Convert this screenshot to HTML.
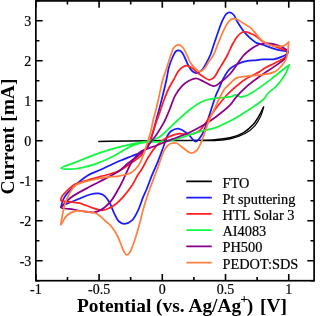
<!DOCTYPE html>
<html><head><meta charset="utf-8"><style>
html,body{margin:0;padding:0;background:#fff;width:315px;height:316px;overflow:hidden;font-family:"Liberation Serif",serif;}
svg{display:block;will-change:transform}
</style></head><body>
<svg width="315" height="316" viewBox="0 0 315 316">
<rect width="315" height="316" fill="#fff"/>
<path d="M98.80 141.40 C109.20 141.23 118.95 141.04 130.00 140.90 C142.51 140.74 157.62 140.60 170.00 140.50 C180.72 140.41 191.72 140.49 200.00 140.30 C205.86 140.16 209.94 140.13 215.00 139.70 C220.23 139.25 225.97 138.88 230.90 137.60 C235.45 136.42 239.83 134.84 243.60 132.60 C247.19 130.46 250.43 127.58 253.10 124.60 C255.65 121.75 257.59 118.28 259.40 115.20 C261.03 112.42 262.20 109.73 263.60 107.00" stroke="#000000" stroke-width="1.50" fill="none" stroke-linejoin="round" stroke-linecap="round"/>
<path d="M263.60 107.00 C262.73 109.87 262.30 112.69 261.00 115.60 C259.51 118.95 257.42 122.83 254.80 125.80 C252.12 128.85 248.68 131.53 245.00 133.60 C241.13 135.78 236.48 137.27 232.00 138.40 C227.48 139.54 222.97 140.02 218.00 140.40 C212.39 140.83 206.00 140.53 200.00 140.60" stroke="#000000" stroke-width="1.20" fill="none" stroke-linejoin="round" stroke-linecap="round"/>
<path d="M288.20 51.40 C288.10 51.90 288.28 52.37 287.90 52.90 C287.02 54.14 283.15 56.02 280.70 57.10 C278.38 58.12 276.29 58.88 273.60 59.30 C270.24 59.82 265.11 59.18 262.00 59.40 C259.89 59.55 258.85 59.82 256.70 60.10 C253.38 60.53 247.68 60.76 244.00 61.70 C241.00 62.46 238.53 63.57 236.10 64.80 C233.82 65.96 231.75 66.88 229.80 68.80 C227.29 71.27 224.82 75.71 223.00 79.10 C221.39 82.10 220.43 85.22 219.20 88.00 C218.10 90.48 216.97 92.56 216.00 95.00 C214.99 97.55 214.34 99.87 213.30 103.00 C211.84 107.41 209.94 113.77 208.10 119.00 C206.30 124.10 204.82 130.01 202.40 134.00 C200.47 137.18 197.97 141.53 195.60 141.60 C193.17 141.67 190.88 136.14 188.00 134.00 C185.06 131.82 181.17 128.92 178.10 128.70 C175.58 128.52 172.81 130.01 171.00 131.30 C169.47 132.39 168.66 133.64 167.60 135.50 C165.99 138.33 164.81 143.13 163.30 147.20 C161.66 151.64 159.97 156.48 158.10 161.10 C156.21 165.78 153.91 170.42 152.00 175.10 C150.11 179.72 148.37 184.92 146.70 189.00 C145.37 192.26 144.20 194.51 142.90 197.70 C141.35 201.52 140.04 206.48 138.10 210.40 C136.27 214.11 134.29 218.43 131.70 220.70 C129.63 222.52 126.83 223.88 124.60 223.90 C122.63 223.92 120.60 222.90 119.00 221.50 C117.03 219.78 115.79 216.51 114.30 213.60 C112.59 210.26 111.28 205.61 109.50 202.50 C108.05 199.98 106.57 197.60 104.80 196.10 C103.34 194.87 101.35 194.14 100.00 193.70 C99.09 193.40 98.62 193.30 97.60 193.30 C95.78 193.29 92.74 193.75 90.00 194.50 C86.54 195.44 82.13 197.59 78.60 199.00 C75.53 200.23 72.75 201.36 70.00 202.50 C67.46 203.55 64.13 204.86 62.70 205.60 C62.07 205.92 61.60 206.55 61.40 206.40 C60.92 206.02 62.64 200.52 64.20 197.70 C66.02 194.42 68.90 191.46 72.20 188.20 C76.45 184.01 82.97 178.33 88.10 175.20 C92.18 172.71 95.53 172.00 100.00 170.00 C105.82 167.39 114.24 163.29 120.00 160.80 C124.31 158.94 127.76 157.65 131.40 156.20 C134.74 154.87 138.29 153.86 141.00 152.40 C143.23 151.20 145.18 150.18 146.70 148.40 C148.35 146.46 149.25 143.67 150.30 141.00 C151.45 138.05 152.25 134.75 153.20 131.40 C154.22 127.77 155.20 123.67 156.20 120.00 C157.14 116.55 158.10 113.34 159.00 110.00 C159.90 106.67 160.62 103.95 161.60 100.00 C163.02 94.29 165.30 85.01 166.60 79.00 C167.57 74.52 167.84 70.95 168.90 67.20 C169.90 63.63 171.37 59.87 172.70 57.00 C173.73 54.78 174.60 52.36 175.90 51.30 C176.82 50.55 178.00 50.14 179.00 50.30 C180.10 50.47 181.25 51.49 182.20 52.60 C183.48 54.10 184.35 56.82 185.40 59.00 C186.48 61.25 187.38 63.79 188.60 65.90 C189.74 67.87 190.86 70.11 192.40 71.30 C193.73 72.32 195.44 73.20 197.00 73.00 C198.86 72.76 201.13 70.69 202.70 69.00 C204.32 67.25 205.27 64.85 206.50 62.60 C207.81 60.20 209.15 57.75 210.30 55.00 C211.58 51.93 212.49 48.57 213.70 45.00 C215.10 40.88 216.67 35.96 218.20 31.70 C219.64 27.71 221.04 23.40 222.60 20.20 C223.81 17.72 224.94 15.18 226.40 13.90 C227.44 12.99 228.67 12.34 229.80 12.40 C231.00 12.47 232.32 13.39 233.40 14.50 C234.89 16.04 235.83 19.19 237.20 21.50 C238.60 23.86 240.28 26.46 241.70 28.50 C242.85 30.16 243.69 31.39 245.00 32.90 C246.59 34.73 248.74 36.89 250.70 38.60 C252.55 40.21 254.28 41.84 256.40 42.90 C258.57 43.99 261.02 44.16 263.60 45.00 C266.67 46.00 270.38 47.62 273.60 48.60 C276.52 49.49 279.49 50.23 282.10 50.70 C284.29 51.09 286.17 51.17 288.20 51.40" stroke="#1a1aff" stroke-width="1.75" fill="none" stroke-linejoin="round" stroke-linecap="round"/>
<path d="M287.90 50.70 C287.13 52.77 287.16 55.07 285.60 56.90 C283.43 59.45 278.08 61.28 274.50 63.20 C271.23 64.95 267.62 66.45 265.00 68.00 C263.02 69.16 262.14 70.11 260.00 71.40 C256.50 73.51 250.43 75.86 245.70 79.00 C240.42 82.51 233.21 88.90 230.00 91.80 C228.48 93.17 228.15 93.51 226.80 95.00 C224.11 97.98 218.89 104.38 215.40 109.00 C212.17 113.28 209.36 117.84 206.50 121.70 C204.02 125.05 202.19 128.73 199.30 130.90 C196.62 132.90 193.36 134.07 190.00 134.60 C186.34 135.18 182.18 133.17 178.10 133.80 C173.47 134.51 167.60 137.09 163.80 139.40 C160.80 141.22 158.90 143.18 156.60 145.70 C153.93 148.63 151.43 152.38 149.00 156.20 C146.31 160.41 143.39 166.70 141.30 170.00 C140.07 171.95 139.27 172.65 138.10 174.50 C136.38 177.23 134.57 181.53 132.30 185.00 C129.85 188.74 126.69 192.80 123.80 196.10 C121.21 199.05 118.68 201.83 115.90 204.00 C113.36 205.99 110.48 207.72 107.90 208.80 C105.74 209.70 103.92 210.44 101.60 210.40 C98.71 210.35 95.37 208.71 91.90 207.60 C87.80 206.28 81.98 203.66 78.60 202.90 C76.60 202.45 75.59 202.61 73.70 202.40 C71.11 202.11 66.71 201.47 64.50 201.30 C63.26 201.21 62.19 201.65 61.60 201.20 C61.07 200.80 60.85 199.78 60.90 199.00 C60.96 198.07 61.63 197.01 62.30 196.00 C63.14 194.72 64.35 193.55 65.80 192.10 C67.86 190.04 70.44 186.92 73.70 185.00 C77.60 182.70 83.51 181.43 88.10 180.00 C92.23 178.71 95.58 177.98 100.00 176.70 C105.60 175.08 113.96 173.32 119.00 171.00 C122.70 169.29 124.70 167.51 128.00 165.20 C132.27 162.20 138.92 158.00 142.30 154.30 C144.79 151.57 146.09 148.70 147.50 146.00 C148.75 143.62 149.54 141.46 150.50 139.00 C151.54 136.34 152.48 133.57 153.50 130.60 C154.64 127.28 155.80 123.47 157.00 120.00 C158.17 116.61 159.43 113.34 160.60 110.00 C161.76 106.67 162.73 103.39 164.00 100.00 C165.35 96.40 166.85 92.44 168.50 89.00 C170.04 85.80 171.78 83.04 173.50 80.00 C175.28 76.85 176.72 72.85 179.00 70.40 C180.99 68.26 183.72 65.97 186.00 65.70 C187.94 65.47 189.87 66.73 191.70 67.80 C193.76 69.00 195.55 71.23 197.60 72.80 C199.65 74.37 201.96 75.98 204.00 77.20 C205.74 78.24 207.36 79.73 209.00 79.80 C210.52 79.86 212.08 79.09 213.50 77.90 C215.58 76.14 217.15 72.32 219.20 69.00 C221.74 64.88 225.23 59.33 227.50 55.00 C229.37 51.44 230.43 48.13 232.10 45.00 C233.68 42.05 235.31 38.92 237.20 36.70 C238.77 34.85 240.61 33.03 242.30 32.30 C243.57 31.75 244.79 31.74 246.10 31.90 C247.58 32.09 249.10 32.91 250.70 33.60 C252.52 34.38 254.46 35.17 256.40 36.40 C258.74 37.88 261.10 40.64 263.60 42.10 C265.88 43.43 268.12 44.01 270.70 45.00 C273.74 46.17 277.63 47.60 280.70 48.60 C283.28 49.44 285.50 50.00 287.90 50.70" stroke="#ff2020" stroke-width="1.75" fill="none" stroke-linejoin="round" stroke-linecap="round"/>
<path d="M289.10 64.90 C288.30 67.03 287.74 69.11 286.70 71.30 C285.51 73.82 283.97 76.58 282.20 79.10 C280.31 81.79 277.96 84.55 275.60 86.90 C273.32 89.17 270.40 90.81 268.30 93.00 C266.35 95.03 265.58 97.30 263.30 99.50 C260.08 102.60 254.90 105.77 250.00 109.00 C244.27 112.78 237.07 117.34 230.90 120.60 C225.45 123.48 219.76 126.17 215.00 127.80 C211.35 129.05 208.66 129.23 205.00 130.20 C200.49 131.40 193.87 133.39 190.00 134.60 C187.54 135.37 186.46 135.83 184.00 136.60 C180.13 137.81 173.66 140.16 169.00 141.00 C165.09 141.71 161.82 141.57 158.00 141.80 C153.85 142.05 149.11 141.83 145.00 142.40 C141.21 142.92 137.68 143.65 134.20 144.90 C130.67 146.17 127.36 148.17 124.00 150.00 C120.59 151.86 117.87 153.98 113.90 156.00 C108.65 158.67 101.56 161.95 95.00 164.10 C88.28 166.31 80.19 168.48 74.00 169.00 C69.21 169.40 61.26 169.17 61.10 168.20 C60.93 167.19 69.17 164.85 74.00 162.90 C80.14 160.42 89.26 156.71 95.00 154.60 C98.92 153.16 101.46 152.33 105.00 151.20 C108.97 149.93 113.45 148.55 117.70 147.40 C121.92 146.25 126.00 145.23 130.40 144.30 C135.08 143.31 140.94 142.52 145.00 141.70 C147.92 141.11 150.00 140.86 152.50 140.00 C155.20 139.07 157.84 138.06 160.60 136.20 C164.19 133.78 168.54 128.87 171.70 125.90 C174.07 123.67 175.46 122.22 177.90 120.00 C181.24 116.97 185.80 112.65 190.00 109.50 C194.08 106.44 198.30 103.19 202.70 101.30 C206.79 99.54 210.99 98.93 215.40 98.20 C220.07 97.43 226.15 97.63 230.00 96.90 C232.60 96.40 234.57 94.82 236.40 95.00 C237.86 95.14 238.82 96.78 240.20 97.00 C241.67 97.24 243.42 96.70 245.00 96.20 C246.69 95.67 248.09 94.87 250.00 93.80 C252.80 92.24 256.62 89.74 260.00 87.40 C263.65 84.87 267.42 81.95 271.10 79.10 C274.82 76.22 278.93 72.77 282.20 70.20 C284.76 68.19 286.80 66.67 289.10 64.90" stroke="#10f840" stroke-width="1.75" fill="none" stroke-linejoin="round" stroke-linecap="round"/>
<path d="M60.80 207.20 C64.07 204.03 66.55 200.75 70.60 197.70 C75.78 193.80 84.57 189.56 90.00 186.60 C93.86 184.50 96.15 183.45 100.00 181.40 C105.34 178.55 113.98 174.47 119.00 171.00 C122.72 168.43 124.92 165.77 128.00 163.30 C131.08 160.83 134.55 158.59 137.50 156.20 C140.22 153.99 142.72 152.06 145.10 149.50 C147.68 146.72 150.30 142.59 152.30 140.00 C153.70 138.19 154.53 137.36 155.90 135.40 C158.09 132.26 161.52 127.02 163.80 122.70 C166.00 118.54 167.53 114.41 169.40 110.00 C171.40 105.27 173.10 99.40 175.40 95.20 C177.30 91.73 179.40 88.71 181.70 86.30 C183.68 84.22 185.71 82.59 188.10 81.30 C190.56 79.97 193.63 78.41 196.30 78.50 C198.92 78.59 201.26 80.54 204.00 81.70 C207.14 83.04 211.16 86.28 214.10 86.10 C216.52 85.95 218.24 83.94 220.50 82.30 C223.45 80.17 226.74 77.55 230.00 74.00 C234.43 69.18 239.76 59.55 243.80 55.20 C246.32 52.49 248.45 50.96 250.70 49.30 C252.64 47.87 254.59 46.62 256.40 45.70 C257.90 44.94 259.05 44.39 260.70 44.00 C262.76 43.52 265.54 43.33 267.90 43.40 C270.20 43.47 272.42 43.83 274.70 44.40 C277.12 45.00 279.75 45.91 282.00 47.00 C284.13 48.03 285.93 49.47 287.90 50.70" stroke="#8a008a" stroke-width="1.75" fill="none" stroke-linejoin="round" stroke-linecap="round"/>
<path d="M287.90 50.70 C287.13 53.03 287.17 55.47 285.60 57.70 C283.43 60.79 278.11 63.80 274.50 66.40 C271.26 68.74 267.65 70.89 265.00 72.70 C263.06 74.02 262.02 74.72 260.00 76.20 C256.77 78.57 251.54 82.25 247.60 85.70 C243.60 89.21 239.33 93.53 236.20 97.10 C233.71 99.94 232.71 102.40 230.00 105.20 C226.32 109.01 220.19 113.68 215.40 117.20 C211.11 120.35 206.99 122.97 202.70 125.50 C198.52 127.96 194.68 130.05 190.00 132.20 C184.52 134.72 177.57 137.07 171.70 139.40 C166.24 141.56 161.17 143.59 155.90 145.70 C150.61 147.82 144.08 149.17 140.00 152.10 C136.63 154.52 134.96 157.11 132.40 161.00 C128.53 166.88 124.46 177.89 120.60 185.00 C117.38 190.92 114.18 196.94 111.10 200.90 C108.96 203.65 106.84 205.53 104.80 207.20 C103.16 208.54 101.77 209.55 100.00 210.40 C98.12 211.31 96.36 212.16 93.80 212.40 C89.88 212.77 82.26 211.10 78.60 210.50 C76.51 210.16 75.69 209.83 73.70 209.50 C70.62 208.99 63.70 208.72 61.90 208.00 C61.29 207.76 61.17 207.47 60.80 207.20" stroke="#8a008a" stroke-width="1.75" fill="none" stroke-linejoin="round" stroke-linecap="round"/>
<path d="M60.80 224.60 C61.67 219.83 62.26 214.88 63.40 210.30 C64.49 205.93 65.49 201.74 67.40 197.70 C69.40 193.46 71.76 188.29 75.30 185.50 C78.72 182.81 83.36 182.31 88.10 181.00 C93.76 179.43 101.36 177.98 107.10 177.10 C111.79 176.38 115.87 176.62 120.00 175.80 C123.96 175.02 128.23 174.26 131.40 172.40 C134.29 170.70 136.58 168.18 138.50 165.50 C140.48 162.74 141.68 159.29 143.00 156.00 C144.36 152.63 145.47 148.71 146.50 145.50 C147.37 142.80 148.06 140.42 148.80 138.00 C149.49 135.73 150.16 133.91 150.80 131.40 C151.64 128.13 152.32 123.66 153.20 120.00 C154.03 116.55 155.03 113.42 155.90 110.00 C156.80 106.43 157.55 103.17 158.50 99.00 C159.75 93.53 161.13 85.67 162.70 80.00 C164.01 75.27 165.69 71.23 167.00 67.20 C168.16 63.61 169.02 60.32 170.20 57.00 C171.36 53.75 172.28 49.61 174.00 47.50 C175.23 45.99 176.92 44.61 178.40 44.60 C179.89 44.59 181.61 46.11 182.90 47.50 C184.48 49.20 185.47 52.05 186.70 54.50 C188.01 57.13 189.07 60.47 190.50 62.80 C191.69 64.73 192.91 66.25 194.40 67.70 C195.90 69.16 197.82 71.39 199.50 71.50 C201.01 71.60 202.61 70.30 204.00 69.00 C205.86 67.26 207.35 63.72 209.00 61.30 C210.51 59.08 212.17 57.43 213.50 55.00 C215.07 52.13 216.11 48.39 217.50 45.00 C218.94 41.46 220.40 37.72 222.00 34.20 C223.57 30.73 225.25 26.61 227.00 24.00 C228.26 22.12 229.46 20.46 230.90 19.60 C232.07 18.90 233.37 18.58 234.70 18.70 C236.28 18.84 238.04 20.01 239.70 20.90 C241.48 21.85 243.20 23.15 245.00 24.30 C246.86 25.49 248.90 26.37 250.70 27.90 C252.73 29.62 254.64 32.29 256.40 34.30 C257.94 36.06 259.07 37.79 260.70 39.30 C262.39 40.87 264.29 42.41 266.40 43.50 C268.58 44.63 271.18 45.44 273.60 45.90 C275.95 46.35 278.58 46.52 280.70 46.30 C282.47 46.11 284.15 45.75 285.50 45.00 C286.75 44.31 287.57 43.07 288.60 42.10" stroke="#ff8040" stroke-width="1.75" fill="none" stroke-linejoin="round" stroke-linecap="round"/>
<path d="M288.60 42.10 C288.37 44.97 288.36 47.79 287.90 50.70 C287.42 53.76 287.03 57.19 285.70 60.00 C284.38 62.79 282.02 65.43 280.00 67.50 C278.25 69.29 276.72 70.80 274.50 71.90 C271.88 73.20 268.67 73.64 265.00 74.30 C260.10 75.18 252.78 75.49 247.60 76.20 C243.39 76.78 239.26 76.64 236.20 78.10 C233.61 79.34 232.00 81.72 230.00 83.60 C228.03 85.45 225.82 87.29 224.30 89.30 C222.93 91.11 222.13 93.06 221.10 95.00 C220.06 96.96 219.36 98.36 218.10 101.00 C215.71 106.00 210.97 115.80 208.10 122.90 C205.48 129.40 203.64 136.88 201.40 141.90 C199.84 145.40 198.72 148.65 196.70 150.50 C195.09 151.98 193.09 153.18 191.00 153.00 C188.18 152.76 184.16 148.55 181.50 146.70 C179.52 145.33 178.22 143.50 176.40 143.00 C174.71 142.54 172.55 143.00 171.00 143.50 C169.68 143.93 168.68 144.45 167.60 145.50 C166.05 147.01 164.61 149.69 163.30 152.40 C161.64 155.82 160.44 160.40 158.90 164.60 C157.25 169.11 155.36 174.17 153.70 178.60 C152.20 182.60 150.92 185.63 149.40 190.00 C147.39 195.80 144.45 204.84 142.90 210.40 C141.85 214.17 141.35 217.06 140.60 220.00 C139.96 222.52 139.43 224.42 138.70 227.00 C137.79 230.22 136.62 234.39 135.50 237.80 C134.48 240.93 133.34 244.08 132.30 246.70 C131.45 248.83 130.87 250.97 129.80 252.40 C128.95 253.53 127.75 254.97 126.80 254.90 C125.81 254.82 124.85 253.08 124.00 251.70 C122.81 249.78 121.95 246.63 120.90 244.10 C119.85 241.56 118.84 238.82 117.70 236.50 C116.69 234.43 115.73 232.66 114.50 230.80 C113.21 228.85 111.71 226.82 110.10 225.10 C108.54 223.43 106.68 222.12 105.00 220.60 C103.32 219.08 101.74 217.30 100.00 216.00 C98.39 214.80 97.07 213.74 95.00 213.00 C92.18 211.99 87.72 211.71 84.30 211.40 C81.18 211.12 78.13 210.49 75.30 211.10 C72.50 211.70 69.70 213.01 67.40 215.00 C64.76 217.29 63.00 221.40 60.80 224.60" stroke="#ff8040" stroke-width="1.75" fill="none" stroke-linejoin="round" stroke-linecap="round"/>
<rect x="35.85" y="0.90" width="278.25" height="279.80" fill="none" stroke="#000" stroke-width="1.7"/>
<path d="M35.85 280.70 V273.90 M35.85 0.90 V7.70 M67.46 280.70 V277.10 M67.46 0.90 V4.50 M99.08 280.70 V273.90 M99.08 0.90 V7.70 M130.69 280.70 V277.10 M130.69 0.90 V4.50 M162.30 280.70 V273.90 M162.30 0.90 V7.70 M193.91 280.70 V277.10 M193.91 0.90 V4.50 M225.53 280.70 V273.90 M225.53 0.90 V7.70 M257.14 280.70 V277.10 M257.14 0.90 V4.50 M288.75 280.70 V273.90 M288.75 0.90 V7.70 M35.85 280.80 H39.45 M314.10 280.80 H310.50 M35.85 260.80 H42.65 M314.10 260.80 H307.30 M35.85 240.80 H39.45 M314.10 240.80 H310.50 M35.85 220.80 H42.65 M314.10 220.80 H307.30 M35.85 200.80 H39.45 M314.10 200.80 H310.50 M35.85 180.80 H42.65 M314.10 180.80 H307.30 M35.85 160.80 H39.45 M314.10 160.80 H310.50 M35.85 140.80 H42.65 M314.10 140.80 H307.30 M35.85 120.80 H39.45 M314.10 120.80 H310.50 M35.85 100.80 H42.65 M314.10 100.80 H307.30 M35.85 80.80 H39.45 M314.10 80.80 H310.50 M35.85 60.80 H42.65 M314.10 60.80 H307.30 M35.85 40.80 H39.45 M314.10 40.80 H310.50 M35.85 20.80 H42.65 M314.10 20.80 H307.30 M35.85 0.80 H39.45 M314.10 0.80 H310.50" stroke="#000" stroke-width="1.6" fill="none"/>
<g font-family="Liberation Serif, serif" font-size="14" fill="#000" stroke="#000" stroke-width="0.2">
<text x="35.85" y="294" text-anchor="middle">-1</text>
<text x="99.08" y="294" text-anchor="middle">-0.5</text>
<text x="162.30" y="294" text-anchor="middle">0</text>
<text x="225.53" y="294" text-anchor="middle">0.5</text>
<text x="288.75" y="294" text-anchor="middle">1</text>
<text x="31.3" y="25.50" text-anchor="end">3</text>
<text x="31.3" y="65.50" text-anchor="end">2</text>
<text x="31.3" y="105.50" text-anchor="end">1</text>
<text x="31.3" y="145.50" text-anchor="end">0</text>
<text x="31.3" y="185.50" text-anchor="end">-1</text>
<text x="31.3" y="225.50" text-anchor="end">-2</text>
<text x="31.3" y="265.50" text-anchor="end">-3</text>
<path d="M187 181.45 H211.1" stroke="#000000" stroke-width="1.75" stroke-linecap="round"/>
<text transform="translate(222.5 187.65) scale(1.025 1)">FTO</text>
<path d="M187 197.66 H211.1" stroke="#1a1aff" stroke-width="1.75" stroke-linecap="round"/>
<text transform="translate(222.5 203.86) scale(1.025 1)">Pt sputtering</text>
<path d="M187 213.87 H211.1" stroke="#ff2020" stroke-width="1.75" stroke-linecap="round"/>
<text transform="translate(222.5 220.07) scale(1.025 1)">HTL Solar 3</text>
<path d="M187 230.08 H211.1" stroke="#10f840" stroke-width="1.75" stroke-linecap="round"/>
<text transform="translate(222.5 236.28) scale(1.025 1)">AI4083</text>
<path d="M187 246.29 H211.1" stroke="#8a008a" stroke-width="1.75" stroke-linecap="round"/>
<text transform="translate(222.5 252.49) scale(1.025 1)">PH500</text>
<path d="M187 262.50 H211.1" stroke="#ff8040" stroke-width="1.75" stroke-linecap="round"/>
<text transform="translate(222.5 268.70) scale(1.025 1)">PEDOT:SDS</text>
</g>
<text transform="translate(77 312) scale(1.02 1)" font-family="Liberation Serif, serif" font-weight="bold" font-size="19">Potential (vs. Ag/Ag<tspan dy="-9" dx="-0.8" font-size="13.5">+</tspan><tspan dy="9" dx="-1.4">) </tspan><tspan dx="2.0">[V]</tspan></text>
<text transform="translate(13.5 136.5) rotate(-90) scale(1.025 1)" text-anchor="middle" font-family="Liberation Serif, serif" font-weight="bold" font-size="19">Current [mA]</text>
</svg>
</body></html>
